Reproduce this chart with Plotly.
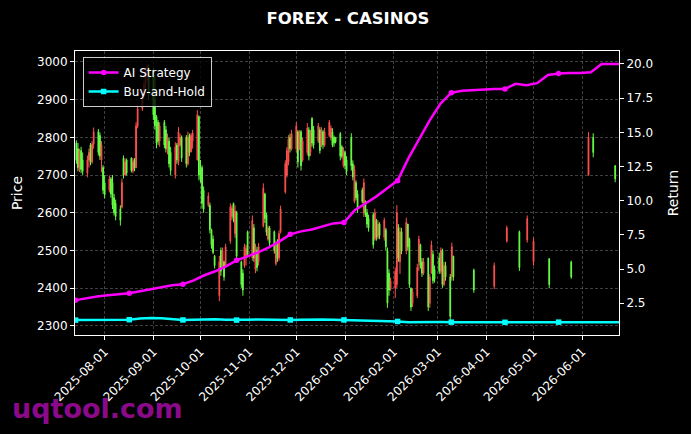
import pandas as pd
import plotly.graph_objects as go

# ---------------- data ----------------
dense_start = "2025-07-14"   # business-day candles start here
dense_open = [2785,2770,2715,2765,2740, 2705,2740,2780,2735,2782, 2815,2805,2740,2720,2680,
              2660,2690,2680,2640,2625, 2610,2615,2745,2700,2740, 2745,2712,2740,2720,2830,
              2876,2910,2940,2960,2985, 2980,2900,2855,2840,2790, 2840,2820,2770,2790,2760,
              2700,2780,2735,2780,2800, 2800,2730,2805,2762,2790, 2740,2855,2720,2720,2660,
              2620,2620,2555,2530,2485, 2380,2500,2455,2470,2460, 2525,2590,2625,2545,2600,
              2470,2440,2460,2480,2550, 2480,2560,2450,2500,2470, 2565,2650,2595,2530,2560,
              2550,2465,2520,2480,2550, 2655,2700,2735,2800,2770, 2770,2815,2770,2815,2740,
              2760,2820,2760,2850,2820, 2790,2820,2780,2815,2780, 2805,2800,2815,2800,2800,
              2810,2775,2725,2760,2740, 2800,2730,2630,2680,2650, 2660,2600,2630,2600,2585,
              2595,2530,2580,2535,2570, 2535,2555,2500,2440,2400, 2400,2410,2560,2470,2550,
              2500,2570,2530,2400,2360, 2380,2470,2515,2470,2440, 2480,2360,2440,2490,2450,
              2480,2445,2500,2410,2460, 2430,2430,2485]
dense_high = [2792,2785,2770,2775,2760, 2752,2770,2785,2790,2826, 2822,2813,2790,2726,2700,
              2699,2695,2700,2650,2635, 2620,2691,2752,2744,2744, 2747,2745,2745,2840,2886,
              2918,2950,2985,2995,2992, 2985,2965,2859,2846,2840, 2846,2830,2810,2800,2775,
              2787,2785,2827,2810,2805, 2806,2815,2810,2811,2820, 2872,2858,2740,2726,2670,
              2654,2627,2558,2540,2488, 2486,2508,2508,2473,2518, 2625,2620,2627,2620,2605,
              2473,2450,2518,2515,2553, 2593,2570,2518,2510,2520, 2678,2653,2600,2566,2565,
              2553,2526,2530,2553,2619, 2739,2774,2806,2810,2820, 2840,2819,2819,2819,2800,
              2838,2827,2820,2854,2830, 2838,2827,2827,2820,2825, 2846,2832,2824,2805,2800,
              2814,2779,2774,2765,2750, 2811,2739,2726,2686,2660, 2667,2691,2633,2610,2595,
              2601,2611,2584,2580,2575, 2587,2560,2508,2450,2428, 2455,2620,2570,2562,2560,
              2587,2571,2534,2402,2400, 2465,2539,2518,2480,2480, 2481,2438,2526,2500,2460,
              2494,2508,2505,2470,2470, 2438,2521,2486]
dense_low = [2730,2710,2708,2705,2700, 2694,2720,2726,2730,2770, 2752,2740,2707,2650,2638,
             2654,2640,2610,2593,2580, 2566,2611,2691,2699,2699, 2707,2705,2710,2718,2824,
             2870,2900,2930,2950,2900, 2846,2820,2771,2780,2775, 2771,2760,2755,2720,2700,
             2691,2730,2726,2775,2735, 2720,2725,2750,2760,2770, 2739,2686,2680,2611,2600,
             2615,2545,2505,2490,2452, 2366,2433,2450,2420,2454, 2518,2580,2575,2534,2473,
             2401,2380,2454,2460,2481, 2473,2470,2440,2445,2460, 2561,2573,2539,2526,2510,
             2492,2460,2470,2473,2545, 2651,2694,2726,2760,2765, 2760,2720,2766,2712,2735,
             2752,2739,2750,2775,2770, 2785,2757,2774,2770,2775, 2800,2792,2774,2775,2784,
             2739,2744,2720,2715,2700, 2712,2686,2625,2633,2600, 2625,2589,2589,2560,2550,
             2505,2526,2526,2530,2530, 2526,2500,2348,2380,2393, 2374,2401,2470,2438,2490,
             2490,2500,2401,2340,2350, 2374,2446,2452,2430,2435, 2340,2348,2438,2412,2415,
             2438,2438,2401,2405,2420, 2313,2420,2420]
dense_close = [2740,2720,2760,2715,2710, 2740,2760,2735,2782,2815, 2760,2750,2780,2660,2648,
               2690,2650,2620,2600,2590, 2580,2680,2700,2735,2705, 2712,2735,2718,2830,2876,
               2910,2940,2975,2985,2915, 2860,2830,2785,2790,2830, 2780,2770,2800,2730,2712,
               2775,2740,2815,2800,2745, 2730,2800,2760,2805,2812, 2860,2700,2690,2625,2610,
               2645,2555,2515,2495,2460, 2470,2445,2500,2430,2510, 2615,2612,2585,2605,2485,
               2410,2395,2510,2505,2490, 2580,2480,2505,2455,2510, 2665,2585,2548,2560,2520,
               2500,2515,2480,2545,2610, 2730,2765,2795,2770,2810, 2830,2735,2810,2725,2790,
               2825,2750,2810,2785,2780, 2830,2765,2815,2780,2815, 2840,2825,2780,2785,2788,
               2750,2750,2765,2725,2710, 2725,2695,2715,2640,2610, 2630,2680,2595,2570,2560,
               2515,2600,2535,2570,2540, 2580,2510,2360,2395,2420, 2445,2600,2480,2550,2500,
               2575,2510,2410,2350,2390, 2455,2530,2460,2440,2470, 2350,2430,2515,2420,2425,
               2445,2500,2410,2460,2430, 2325,2510,2430]

sparse_dates = ["2026-03-24", "2026-04-06", "2026-04-14", "2026-04-22", "2026-04-27", "2026-05-01",
                "2026-05-11", "2026-05-25", "2026-06-05", "2026-06-08", "2026-06-22"]
sparse_open = [2448, 2405, 2525, 2550, 2528, 2470, 2478, 2470, 2700, 2800, 2725]
sparse_high = [2452, 2468, 2566, 2553, 2593, 2534, 2480, 2473, 2814, 2811, 2726]
sparse_low = [2388, 2398, 2521, 2446, 2521, 2460, 2400, 2425, 2699, 2747, 2681]
sparse_close = [2395, 2460, 2560, 2455, 2585, 2525, 2410, 2430, 2800, 2760, 2690]

line_start = "2025-07-13 12:00"   # return series, one value every 164 h
ai_strategy = [2.73, 2.87, 3.00, 3.09, 3.16, 3.24, 3.38, 3.53, 3.67, 3.82,
               3.89, 4.18, 4.55, 4.84, 5.20, 5.64, 5.93, 6.22, 6.59, 7.03,
               7.54, 7.76, 7.90, 8.12, 8.34, 8.41, 9.30, 9.80, 10.30, 10.89,
               11.47, 13.10, 14.50, 15.90, 17.10, 17.90, 18.05, 18.10, 18.18, 18.18,
               18.18, 18.55, 18.45, 18.60, 19.20, 19.30, 19.34, 19.34, 19.40, 20.00,
               20.00, 20.00]
buy_and_hold = [1.27, 1.28, 1.27, 1.30, 1.32, 1.30, 1.38, 1.42, 1.40, 1.36,
                1.28, 1.30, 1.34, 1.33, 1.30, 1.27, 1.29, 1.32, 1.30, 1.28,
                1.28, 1.30, 1.33, 1.32, 1.30, 1.28, 1.27, 1.25, 1.24, 1.20,
                1.17, 1.12, 1.14, 1.16, 1.13, 1.12, 1.12, 1.13, 1.12, 1.12,
                1.11, 1.12, 1.12, 1.11, 1.12, 1.12, 1.12, 1.12, 1.12, 1.12,
                1.12, 1.12]
marker_every = 5
marker_last = 45

price_ticks = [2300, 2400, 2500, 2600, 2700, 2800, 2900, 3000]
return_ticks = [2.5, 5.0, 7.5, 10.0, 12.5, 15.0, 17.5, 20.0]

# ---------------- figure ----------------
dense_dates = list(pd.bdate_range(dense_start, periods=len(dense_open)).strftime("%Y-%m-%d"))
c_dates = dense_dates + sparse_dates
c_open = dense_open + sparse_open
c_high = dense_high + sparse_high
c_low = dense_low + sparse_low
c_close = dense_close + sparse_close

line_dates = pd.date_range(line_start, periods=len(ai_strategy), freq="164h")
mark_idx = list(range(0, marker_last + 1, marker_every))

RED = "#ff5050"
GREEN = "#66ff44"
MAG = "#ff00ff"
CYAN = "#00ffff"
FONT = "DejaVu Sans"

fig = go.Figure()
fig.add_trace(go.Candlestick(
    x=c_dates, open=c_open, high=c_high, low=c_low, close=c_close,
    increasing=dict(line=dict(color=RED, width=1), fillcolor=RED),
    decreasing=dict(line=dict(color=GREEN, width=1), fillcolor=GREEN),
    showlegend=False, name="Price", yaxis="y"))

for name, vals, col, sym in [("AI Strategy", ai_strategy, MAG, "circle"),
                             ("Buy-and-Hold", buy_and_hold, CYAN, "square")]:
    fig.add_trace(go.Scatter(x=line_dates, y=vals, mode="lines", yaxis="y2",
                             line=dict(color=col, width=2.5), showlegend=False,
                             legendgroup=name, name=name))
    fig.add_trace(go.Scatter(x=[line_dates[i] for i in mark_idx], y=[vals[i] for i in mark_idx],
                             mode="markers", yaxis="y2", showlegend=False, legendgroup=name,
                             marker=dict(color=col, size=5.5, symbol=sym), name=name))
    fig.add_trace(go.Scatter(x=[None], y=[None], mode="lines+markers", yaxis="y2",
                             line=dict(color=col, width=2.5),
                             marker=dict(color=col, size=5.5, symbol=sym),
                             legendgroup=name, name=name))

grid = dict(showgrid=True, gridcolor="rgba(140,140,140,0.45)", griddash="3px,2px", gridwidth=0.7)
fig.update_layout(
    width=691, height=434,
    margin=dict(l=75, r=70, t=51, b=99),
    paper_bgcolor="black", plot_bgcolor="black",
    font=dict(family=FONT, size=12, color="white"),
    title=dict(text="FOREX - CASINOS", x=348 / 691, xanchor="center", y=1 - 18 / 434,
               yanchor="middle", font=dict(family=FONT, size=16.5, color="white", weight="bold")),
    xaxis=dict(type="date", range=["2025-07-13 03:00", "2026-06-24 10:00"],
               tick0="2025-08-01", dtick="M1", tickformat="%Y-%m-%d", tickangle=-45,
               ticks="outside", ticklen=4, tickcolor="white",
               showline=True, linecolor="white", linewidth=1, mirror=True,
               rangeslider=dict(visible=False), zeroline=False, **grid),
    yaxis=dict(range=[2276, 3029], tickvals=price_ticks, ticks="outside", ticklen=4,
               tickcolor="white", showline=True, linecolor="white", linewidth=1,
               title=dict(text="Price", standoff=11), zeroline=False, **grid),
    yaxis2=dict(range=[0.18, 20.95], tickvals=return_ticks, tickformat=".1f",
                overlaying="y", side="right", ticks="outside", ticklen=4, tickcolor="white",
                showline=True, linecolor="white", linewidth=1, showgrid=False, zeroline=False,
                title=dict(text="Return", standoff=16)),
    legend=dict(x=0.014, y=0.979, xanchor="left", yanchor="top", tracegroupgap=0,
                bgcolor="rgba(0,0,0,0.8)", bordercolor="#cccccc", borderwidth=1,
                font=dict(family=FONT, size=12, color="white")),
    annotations=[dict(text="uqtool.com", xref="paper", yref="paper",
                      x=(10 - 75) / 546, y=(335 - 409) / 284, xanchor="left", yanchor="middle",
                      showarrow=False,
                      font=dict(family=FONT, size=27, color="#8a0a8a", weight="bold"))],
)

fig.write_html("out.html", config={"displayModeBar": False},
               post_script="document.body.style.margin='0';document.body.style.background='black';")
